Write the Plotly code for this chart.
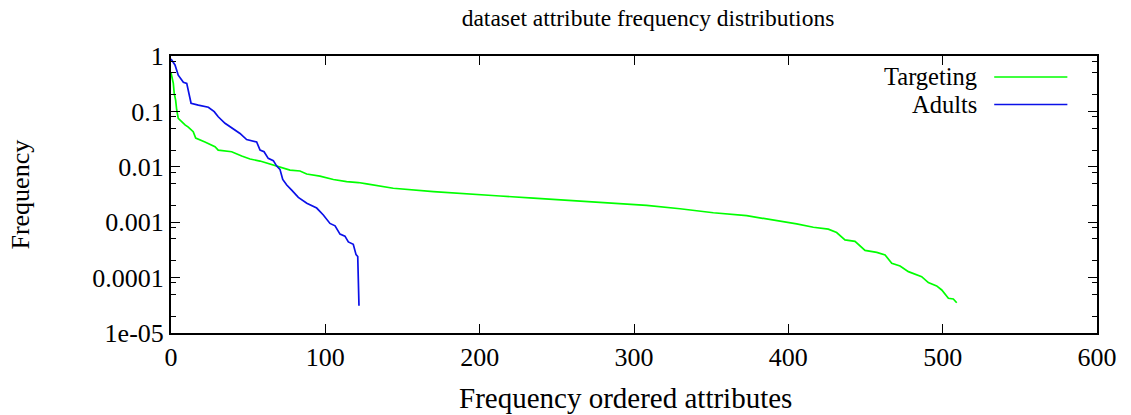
import plotly.graph_objects as go

# Rank-ordered attribute frequencies (x = rank, y = relative frequency)
targeting_rank = [0, 1.5, 2.1, 3, 3.7, 4.7, 9.1, 11.2, 14.4, 16, 22, 28.5, 30.6, 39.3,
                  45.8, 51.2, 57.7, 64.1, 68.5, 77.1, 83.6, 87.9, 96.5, 105.2, 113.8,
                  121.4, 126.8, 144, 170, 191.6, 213.2, 234.8, 256.4, 265, 278, 286.6,
                  308.2, 329.8, 351.4, 373, 394.6, 405.4, 416.2, 425.9, 431.3, 436.7,
                  443.2, 449.7, 457.3, 462.7, 467, 472.4, 477.8, 486.4, 490.7, 496.1,
                  499.4, 503.7, 506.9, 509.1]
targeting_freq = [0.5, 0.32, 0.21, 0.16, 0.106, 0.075, 0.057, 0.052, 0.043, 0.033, 0.028,
                  0.023, 0.020, 0.0187, 0.0157, 0.0138, 0.0127, 0.0112, 0.0100, 0.0087,
                  0.0084, 0.0074, 0.0068, 0.0059, 0.0054, 0.0052, 0.0049, 0.0041,
                  0.00355, 0.0032, 0.00297, 0.00273, 0.00251, 0.00245, 0.00234,
                  0.00225, 0.00202, 0.00175, 0.00148, 0.00131, 0.00106, 0.00093,
                  0.00081, 0.00075, 0.00065, 0.00048, 0.00045, 0.00031, 0.000286,
                  0.000257, 0.000181, 0.000162, 0.000128, 0.000104, 0.0000811,
                  0.0000707, 0.0000598, 0.0000423, 0.0000411, 0.0000352]

adults_rank = [0, 2.6, 4.7, 8, 10.2, 13, 17.7, 24.2, 28, 30.6, 35, 41.5, 44.7, 49, 55.5,
               57.7, 60.3, 63, 66.3, 68.5, 70.6, 72.4, 75, 78.2, 82.5, 88, 94.4, 98.7,
               103, 106.3, 109.5, 112.7, 114.9, 118.1, 119.9, 121, 121.8]
adults_freq = [0.88, 0.69, 0.45, 0.335, 0.32, 0.14, 0.13, 0.119, 0.099, 0.080, 0.061,
               0.045, 0.040, 0.031, 0.028, 0.020, 0.0187, 0.0142, 0.0129, 0.0103,
               0.0090, 0.0059, 0.0047, 0.0038, 0.0028, 0.0022, 0.0018, 0.00135,
               0.00095, 0.00086, 0.00061, 0.00056, 0.00044, 0.00040, 0.00026,
               0.00024, 0.000031]

x_ticks = [0, 100, 200, 300, 400, 500, 600]
y_ticks = [1, 0.1, 0.01, 0.001, 0.0001, 0.00001]
y_tick_text = ["1", "0.1", "0.01", "0.001", "0.0001", "1e-05"]
y_minor = [m * 10.0 ** e for e in range(-5, 0) for m in (2, 5, 8)]

series = [
    ("Targeting", targeting_rank, targeting_freq, "#00ff00"),
    ("Adults", adults_rank, adults_freq, "#0a10e8"),
]

FONT = "Liberation Serif, Times New Roman, serif"
SIZE = 26

fig = go.Figure()
for name, xs, ys, color in series:
    fig.add_trace(go.Scatter(x=xs, y=ys, mode="lines", name=name,
                             line=dict(color=color, width=1.7), showlegend=False))

# key in the upper right: label text followed by a line sample
key_rows = [0.9242, 0.8249]
for (name, _, _, color), ky in zip(series, key_rows):
    fig.add_annotation(x=0.8715, y=ky, xref="paper", yref="paper", text=name,
                       showarrow=False, xanchor="right", yanchor="middle",
                       borderpad=0,
                       font=dict(family=FONT, size=24.5, color="black"))
    fig.add_shape(type="line", xref="paper", yref="paper", x0=0.889, x1=0.968,
                  y0=ky, y1=ky, line=dict(color=color, width=1.7))

fig.add_annotation(x=0.4908, y=-0.235, xref="paper", yref="paper",
                   text="Frequency ordered attributes", showarrow=False,
                   xanchor="center", yanchor="middle",
                   font=dict(family=FONT, size=29, color="black"))
fig.add_annotation(x=-0.163, y=0.5, xref="paper", yref="paper",
                   text="Frequency", showarrow=False, textangle=-90,
                   xanchor="center", yanchor="middle",
                   font=dict(family=FONT, size=SIZE, color="black"))

fig.update_layout(
    width=1131, height=415,
    margin=dict(l=171, r=34, t=56, b=82),
    paper_bgcolor="white", plot_bgcolor="white",
    font=dict(family=FONT, size=SIZE, color="black"),
    title=dict(text="dataset attribute frequency distributions", x=648 / 1131,
               xanchor="center", y=1 - 18 / 415, yanchor="middle",
               font=dict(family=FONT, size=23.5, color="black")),
    xaxis=dict(range=[0, 600], tickvals=x_ticks, ticks="inside", ticklen=9,
               tickwidth=1, tickcolor="black", showline=True, linecolor="black",
               linewidth=2, mirror="allticks", showgrid=False, zeroline=False,
               tickfont=dict(family=FONT, size=SIZE)),
    yaxis=dict(type="log", range=[-5, 0], tickvals=y_ticks, ticktext=y_tick_text,
               ticks="inside", ticklen=9, tickwidth=1, tickcolor="black",
               showline=True, linecolor="black", linewidth=2, mirror="allticks",
               showgrid=False, zeroline=False, tickfont=dict(family=FONT, size=SIZE),
               minor=dict(tickvals=y_minor, ticks="inside", ticklen=5,
                          tickcolor="black", tickwidth=1, showgrid=False)),
)

fig.write_html("out.html")
